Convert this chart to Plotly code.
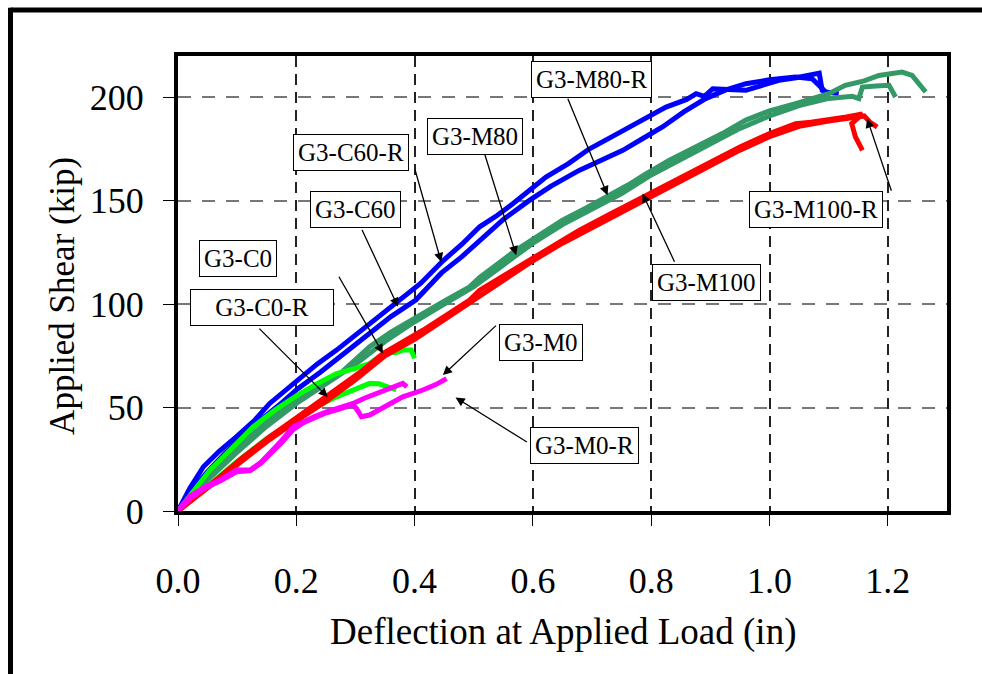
import plotly.graph_objects as go

# ---------------- data ----------------
blue_a_x = [0, 0.02, 0.043, 0.07, 0.099, 0.13, 0.155, 0.18, 0.202, 0.235, 0.268, 0.3, 0.324, 0.35, 0.38, 0.41,
            0.448, 0.48, 0.51, 0.54, 0.566, 0.595, 0.622, 0.66, 0.695, 0.74, 0.78, 0.825, 0.86, 0.876, 0.89,
            0.904, 0.93, 0.96, 0.99, 1.016, 1.045, 1.072, 1.084, 1.089, 1.10]
blue_a_y = [0, 11, 21.4, 29, 36, 44, 52, 58, 63.3, 71, 77.8, 85, 90.7, 97, 103.5, 110,
            121, 129, 137.4, 143, 148.6, 155, 161.5, 168, 175, 182, 188, 195.3, 199, 201.8, 200.5,
            204.2, 203.8, 203.4, 206, 208.2, 209.5, 210.6, 211.7, 203.4, 201.8]

blue_b_x = [0, 0.02, 0.05, 0.08, 0.11, 0.14, 0.17, 0.202, 0.24, 0.28, 0.324, 0.36, 0.402, 0.445, 0.48, 0.51,
            0.55, 0.594, 0.63, 0.678, 0.715, 0.752, 0.785, 0.819, 0.855, 0.892, 0.925, 0.96, 1.0, 1.044,
            1.072, 1.085, 1.095, 1.117]
blue_b_y = [0, 9, 19, 28, 36, 44, 51, 59, 67, 76, 86, 94, 102, 115, 123, 131,
            141, 150.2, 157, 164.7, 169.5, 174.4, 180, 185.7, 193, 199.4, 203.5, 206.6, 208.5, 209.8,
            209, 205, 202.6, 201.8]

sea_a_x = [0, 0.043, 0.09, 0.133, 0.17, 0.212, 0.24, 0.268, 0.3, 0.324, 0.36, 0.403, 0.45, 0.493, 0.51,
           0.571, 0.61, 0.65, 0.69, 0.724, 0.76, 0.791, 0.83, 0.875, 0.92, 0.96, 1.0, 1.044, 1.07, 1.10,
           1.128, 1.16, 1.185, 1.205, 1.224, 1.241, 1.252, 1.264]
sea_a_y = [0, 15, 28, 39, 48, 56.8, 60.5, 64.9, 73, 79.4, 86.5, 93.9, 101.5, 108.4, 113,
           126, 133, 140.6, 146.5, 151.8, 157.5, 163, 169.5, 176, 182.5, 189, 193.5, 197, 199.5, 201.8,
           205.8, 208, 210.6, 211.5, 212.2, 210.6, 206.6, 202.6]

sea_b_x = [0, 0.05, 0.1, 0.15, 0.2, 0.25, 0.3, 0.35, 0.4, 0.45, 0.5, 0.55, 0.6, 0.65, 0.7, 0.75, 0.8,
           0.85, 0.9, 0.95, 1.0, 1.05, 1.10, 1.14, 1.151, 1.157, 1.18, 1.202, 1.213]
sea_b_y = [0, 15, 28.5, 41, 52, 61.5, 71, 82, 91.5, 100, 108.5, 119, 129.5, 138.5, 146, 153.5, 162.5,
           170, 177, 185, 191, 196, 199.5, 200.5, 199.4, 205, 205.5, 205.8, 200.2]

red_a_x = [0, 0.035, 0.071, 0.11, 0.155, 0.211, 0.24, 0.268, 0.31, 0.347, 0.38, 0.414, 0.45, 0.493, 0.51,
           0.538, 0.594, 0.636, 0.678, 0.73, 0.786, 0.84, 0.904, 0.95, 1.0, 1.044, 1.07, 1.10, 1.13, 1.157,
           1.139, 1.145, 1.157]
red_a_y = [0, 8, 16.6, 26, 35.9, 47.2, 53, 58.5, 67.5, 76.2, 81.5, 87.4, 94, 102, 106.8,
           111.6, 121.3, 128.5, 135.7, 143.5, 151.8, 160, 169.6, 176, 182.5, 187.3, 188, 189, 190.5, 192,
           187.3, 181, 174.4]

red_b_x = [0, 0.05, 0.1, 0.15, 0.2, 0.25, 0.3, 0.35, 0.4, 0.45, 0.5, 0.55, 0.6, 0.65, 0.7, 0.75, 0.8,
           0.85, 0.9, 0.95, 1.0, 1.05, 1.1, 1.14, 1.16, 1.17, 1.182]
red_b_y = [0, 11, 22.5, 33.5, 43.5, 53, 63.5, 75, 83, 92.5, 102, 112, 121, 129.5, 137, 145, 152,
           159.5, 167.5, 174.5, 181, 186, 188.5, 190, 191, 188, 185.6]

lime_a_x = [0, 0.02, 0.054, 0.09, 0.127, 0.165, 0.202, 0.235, 0.268, 0.3, 0.324, 0.352, 0.368, 0.38,
            0.394, 0.40]
lime_a_y = [0, 7, 19.8, 30, 40.7, 49, 56, 61.5, 66.5, 69, 71.3, 77, 76.5, 77.8, 77.8, 73.8]

lime_b_x = [0, 0.05, 0.1, 0.15, 0.206, 0.235, 0.268, 0.3, 0.324, 0.34, 0.352, 0.369]
lime_b_y = [0, 12, 24, 35, 45.6, 50.5, 55.2, 59, 61.7, 61.5, 60, 58.5]

mag_a_x = [0, 0.02, 0.045, 0.071, 0.099, 0.122, 0.14, 0.155, 0.175, 0.195, 0.211, 0.23, 0.251, 0.275,
           0.296, 0.315, 0.335, 0.36, 0.38, 0.387]
mag_a_y = [0, 7, 11.5, 15, 19.8, 19.8, 23.5, 27.9, 34, 40.7, 43.2, 45.5, 48, 50,
           52, 54.5, 56.8, 59.5, 61.7, 60]

mag_b_x = [0, 0.02, 0.045, 0.071, 0.099, 0.122, 0.14, 0.155, 0.175, 0.195, 0.211, 0.23, 0.251, 0.275,
           0.296, 0.305, 0.31, 0.324, 0.35, 0.38, 0.414, 0.435, 0.454]
mag_b_y = [0, 6, 11, 14.5, 19, 19.5, 23, 27, 33, 39.5, 42.5, 45, 47.5, 49.5,
           51.5, 48, 45.6, 46.4, 50.5, 55.2, 58.5, 61, 64]

x_ticks = [0.0, 0.2, 0.4, 0.6, 0.8, 1.0, 1.2]
y_ticks = [0, 50, 100, 150, 200]

labels = ["G3-C60-R", "G3-C60", "G3-C0", "G3-C0-R", "G3-M80", "G3-M80-R",
          "G3-M100", "G3-M100-R", "G3-M0", "G3-M0-R"]
# ---------------- positions / styles ----------------
label_x = [0.2928, 0.3004, 0.1013, 0.1418, 0.5013, 0.6987, 0.8928, 1.0785, 0.6143, 0.6869]
label_y = [173.4, 145.7, 122.0, 98.6, 181.2, 208.7, 110.4, 145.9, 81.5, 31.6]
label_w = [None, None, None, 134, None, None, None, None, None, None]
arrow_tail = [(0.400, 165.7), (0.310, 136.6), (0.2706, 114.0), (0.135, 88.9), (0.518, 173.0),
              (0.658, 200.0), (0.8405, 119.8), (1.2068, 154.1), (0.5401, 90.3), (0.5924, 32.9)]
arrow_head = [(0.445, 120.4), (0.372, 98.7), (0.3465, 76.2), (0.2532, 55.1), (0.5717, 123.7),
              (0.7262, 152.7), (0.7853, 153.5), (1.165, 189.7), (0.4478, 65.7), (0.4692, 54.9)]

BLUE, SEA, RED, LIME, MAG = "#0000FF", "#339966", "#FF0000", "#00FF00", "#FF00FF"
FONT = "Liberation Serif"

series = [
    (blue_a_x, blue_a_y, BLUE), (blue_b_x, blue_b_y, BLUE),
    (sea_a_x, sea_a_y, SEA), (sea_b_x, sea_b_y, SEA),
    (lime_a_x, lime_a_y, LIME), (lime_b_x, lime_b_y, LIME),
    (red_a_x, red_a_y, RED), (red_b_x, red_b_y, RED),
    (mag_a_x, mag_a_y, MAG), (mag_b_x, mag_b_y, MAG),
]

fig = go.Figure()
for xs, ys, col in series:
    fig.add_trace(go.Scatter(x=xs, y=ys, mode="lines", line=dict(color=col, width=5),
                             showlegend=False, hoverinfo="skip"))

annotations = []
for t, lx, ly, w in zip(labels, label_x, label_y, label_w):
    a = dict(x=lx, y=ly, xref="x", yref="y", text=t, showarrow=False,
             font=dict(family=FONT, size=25, color="black"),
             bordercolor="black", borderwidth=1, borderpad=4, bgcolor="white",
             xanchor="center", yanchor="middle")
    if w:
        a["width"] = w
    annotations.append(a)
for (tx, ty), (hx, hy) in zip(arrow_tail, arrow_head):
    annotations.append(dict(x=hx, y=hy, xref="x", yref="y", ax=tx, ay=ty, axref="x", ayref="y",
                            text="", showarrow=True, arrowhead=2, arrowsize=1.4, arrowwidth=1.3,
                            arrowcolor="black", standoff=0))

# axis titles
annotations.append(dict(x=0.5, y=-0.266, xref="paper", yref="paper", text="Deflection at Applied Load (in)",
                        showarrow=False, font=dict(family=FONT, size=37, color="black"),
                        xanchor="center", yanchor="middle"))
annotations.append(dict(x=-0.151, y=0.4725, xref="paper", yref="paper", text="Applied Shear (kip)",
                        showarrow=False, textangle=-90, font=dict(family=FONT, size=35, color="black"),
                        xanchor="center", yanchor="middle"))

# outer frame (top and left edges visible)
fx = (10.5 - 178) / 769
fy = (511 - 10) / 455
shapes = [
    dict(type="line", xref="paper", yref="paper", x0=fx, x1=1.1, y0=fy, y1=fy,
         line=dict(color="black", width=5)),
    dict(type="line", xref="paper", yref="paper", x0=fx, x1=fx, y0=fy + 0.005, y1=-0.4,
         line=dict(color="black", width=5)),
]

fig.update_layout(
    width=982, height=674,
    margin=dict(l=178, r=35, t=56, b=163),
    paper_bgcolor="white", plot_bgcolor="white",
    annotations=annotations, shapes=shapes,
    showlegend=False,
)
fig.update_xaxes(
    range=[0, 1.3], tickvals=x_ticks, tickformat=".1f",
    ticks="outside", ticklen=11, tickwidth=1, tickcolor="black",
    ticklabelstandoff=24,
    tickfont=dict(family=FONT, size=36, color="black"),
    showline=True, linewidth=4, linecolor="black", mirror=True,
    showgrid=True, gridcolor="#222222", gridwidth=1.5, griddash="11px,7px",
    zeroline=False,
)
fig.update_yaxes(
    range=[0, 220], tickvals=y_ticks,
    ticks="outside", ticklen=11, tickwidth=1, tickcolor="black",
    ticklabelstandoff=12,
    tickfont=dict(family=FONT, size=36, color="black"),
    showline=True, linewidth=4, linecolor="black", mirror=True,
    showgrid=True, gridcolor="#777777", gridwidth=2, griddash="13px,11px",
    zeroline=False,
)

fig.write_html("out.html")
